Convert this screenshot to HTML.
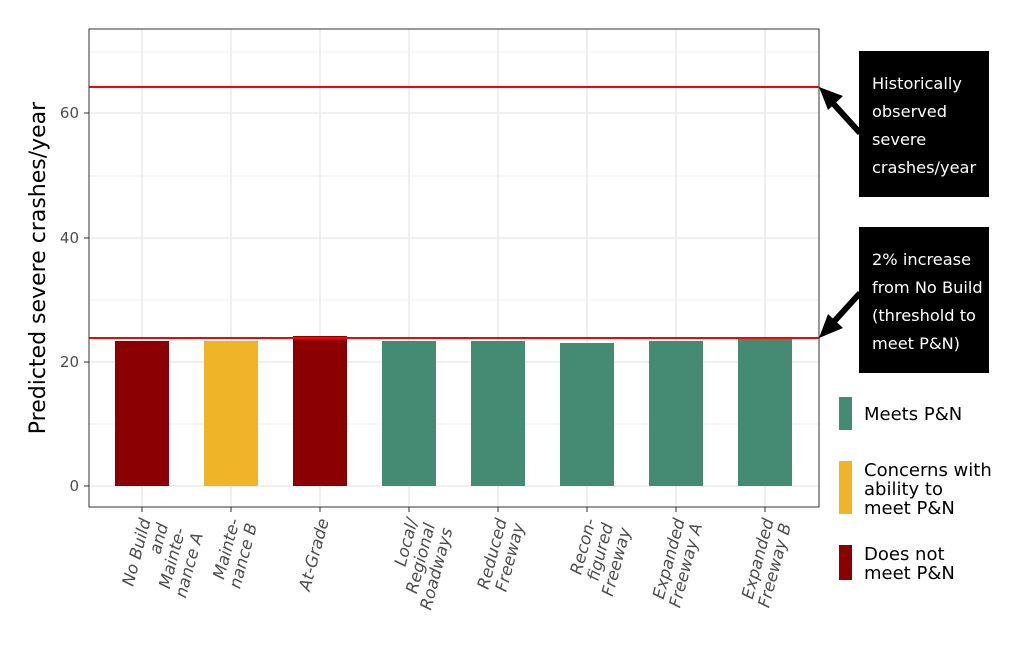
<!DOCTYPE html>
<html><head><meta charset="utf-8"><style>body{margin:0;background:#fff}svg{display:block}</style></head><body>
<svg width="1024" height="659" xmlns="http://www.w3.org/2000/svg" font-family="DejaVu Sans, Liberation Sans, sans-serif">
<rect width="1024" height="659" fill="#fff"/>
<g stroke="#ebebeb" stroke-width="0.8">
<line x1="89" x2="819" y1="424" y2="424"/><line x1="89" x2="819" y1="300" y2="300"/><line x1="89" x2="819" y1="176" y2="176"/><line x1="89" x2="819" y1="52" y2="52"/>
</g>
<g stroke="#ebebeb" stroke-width="1.6">
<line x1="89" x2="819" y1="486" y2="486"/><line x1="89" x2="819" y1="362" y2="362"/><line x1="89" x2="819" y1="238" y2="238"/><line x1="89" x2="819" y1="113" y2="113"/>
<line x1="142" x2="142" y1="29" y2="507"/><line x1="231" x2="231" y1="29" y2="507"/><line x1="320" x2="320" y1="29" y2="507"/><line x1="409" x2="409" y1="29" y2="507"/><line x1="498" x2="498" y1="29" y2="507"/><line x1="587" x2="587" y1="29" y2="507"/><line x1="676" x2="676" y1="29" y2="507"/><line x1="765" x2="765" y1="29" y2="507"/>
</g>
<rect x="115" y="341" width="54" height="145" fill="#8b0000"/>
<rect x="204" y="341" width="54" height="145" fill="#f0b429"/>
<rect x="293" y="336" width="54" height="150" fill="#8b0000"/>
<rect x="382" y="341" width="54" height="145" fill="#458b74"/>
<rect x="471" y="341" width="54" height="145" fill="#458b74"/>
<rect x="560" y="343" width="54" height="143" fill="#458b74"/>
<rect x="649" y="341" width="54" height="145" fill="#458b74"/>
<rect x="738" y="339" width="54" height="147" fill="#458b74"/>
<line x1="89" x2="819" y1="87" y2="87" stroke="#ff0000" stroke-width="2"/>
<line x1="89" x2="819" y1="338" y2="338" stroke="#ff0000" stroke-width="2"/>
<rect x="89" y="29" width="730" height="478" fill="none" stroke="#333" stroke-width="1"/>
<g fill="#4d4d4d" font-size="15" text-anchor="end">
<text x="79" y="491">0</text><text x="79" y="367">20</text><text x="79" y="243">40</text><text x="79" y="118">60</text>
</g>
<g stroke="#333" stroke-width="1">
<line x1="84" x2="89" y1="486" y2="486"/><line x1="84" x2="89" y1="362" y2="362"/><line x1="84" x2="89" y1="238" y2="238"/><line x1="84" x2="89" y1="113" y2="113"/>
<line x1="142" x2="142" y1="507" y2="512"/><line x1="231" x2="231" y1="507" y2="512"/><line x1="320" x2="320" y1="507" y2="512"/><line x1="409" x2="409" y1="507" y2="512"/><line x1="498" x2="498" y1="507" y2="512"/><line x1="587" x2="587" y1="507" y2="512"/><line x1="676" x2="676" y1="507" y2="512"/><line x1="765" x2="765" y1="507" y2="512"/>
</g>
<text transform="translate(45,268) rotate(-90)" text-anchor="middle" font-size="22" fill="#000">Predicted severe crashes/year</text>
<g fill="#4d4d4d" font-size="16.5" font-style="italic" text-anchor="end">
<g transform="translate(146,519) rotate(-75)"><text x="0" y="5">No Build</text><text x="0" y="23">and</text><text x="0" y="41">Mainte-</text><text x="0" y="59">nance A</text></g>
<g transform="translate(235,519) rotate(-75)"><text x="0" y="5">Mainte-</text><text x="0" y="23">nance B</text></g>
<g transform="translate(324,519) rotate(-75)"><text x="0" y="5">At-Grade</text></g>
<g transform="translate(413,519) rotate(-75)"><text x="0" y="5">Local/</text><text x="0" y="23">Regional</text><text x="0" y="41">Roadways</text></g>
<g transform="translate(502,519) rotate(-75)"><text x="0" y="5">Reduced</text><text x="0" y="23">Freeway</text></g>
<g transform="translate(591,519) rotate(-75)"><text x="0" y="5">Recon-</text><text x="0" y="23">figured</text><text x="0" y="41">Freeway</text></g>
<g transform="translate(680,519) rotate(-75)"><text x="0" y="5">Expanded</text><text x="0" y="23">Freeway A</text></g>
<g transform="translate(769,519) rotate(-75)"><text x="0" y="5">Expanded</text><text x="0" y="23">Freeway B</text></g>
</g>
<rect x="859" y="51" width="130" height="146" fill="#000"/>
<rect x="859" y="227" width="130" height="146" fill="#000"/>
<g fill="#fff" font-size="16.2">
<text x="872" y="89">Historically</text><text x="872" y="117">observed</text><text x="872" y="145">severe</text><text x="872" y="173">crashes/year</text>
<text x="872" y="265">2% increase</text><text x="872" y="293">from No Build</text><text x="872" y="321">(threshold to</text><text x="872" y="349">meet P&amp;N)</text>
</g>
<g stroke="#000" stroke-width="6">
<line x1="860" y1="133" x2="830" y2="100"/>
<line x1="860" y1="293" x2="830" y2="326"/>
</g>
<polygon points="819,87 843,96 828,110" fill="#000"/>
<polygon points="819,338 828,314 843,328" fill="#000"/>
<rect x="839" y="397" width="13" height="33" fill="#458b74"/>
<rect x="839" y="461" width="13" height="53" fill="#f0b429"/>
<rect x="839" y="545" width="13" height="35" fill="#8b0000"/>
<g fill="#000" font-size="18">
<text x="864" y="420">Meets P&amp;N</text>
<text x="864" y="476">Concerns with</text><text x="864" y="495">ability to</text><text x="864" y="514">meet P&amp;N</text>
<text x="864" y="560">Does not</text><text x="864" y="579">meet P&amp;N</text>
</g>
</svg>
</body></html>
